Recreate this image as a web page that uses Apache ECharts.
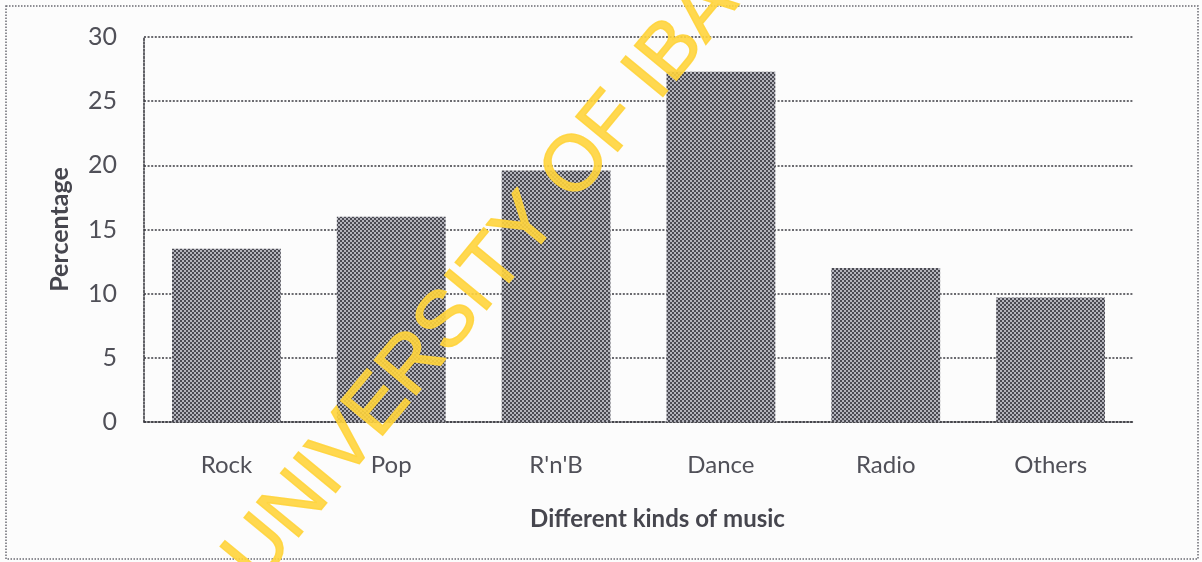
<!DOCTYPE html>
<html>
<head>
<meta charset="utf-8">
<script src="https://cdn.jsdelivr.net/npm/echarts@6/dist/echarts.min.js"></script>
<style>
  html, body { margin: 0; padding: 0; background: #fcfcfc; }
  #chart { width: 1202px; height: 562px; }
</style>
</head>
<body>
<div id="chart"></div>
<script>
// data
const categories = ['Rock', 'Pop', "R'n'B", 'Dance', 'Radio', 'Others']
const percentages = [13.5, 16, 19.6, 27.3, 12, 9.7]
const yTicks = { min: 0, max: 30, interval: 5 }

// checker pattern like the printed hatch fill
function checker () {
  const c = document.createElement('canvas')
  c.width = 4
  c.height = 4
  const ctx = c.getContext('2d')
  ctx.fillStyle = '#b4b4bc'
  ctx.fillRect(0, 0, 4, 4)
  ctx.fillStyle = '#4a4a52'
  ctx.fillRect(0, 0, 2, 2)
  ctx.fillRect(2, 2, 2, 2)
  return c
}

const dotted = { color: '#3a3a40', width: 1.6, type: [2, 1.6] }
const labelFont = 'Lato, "Open Sans", sans-serif'

const chart = echarts.init(document.getElementById('chart'))

const options = {
  backgroundColor: '#fcfcfc',
  animation: false,
  grid: { left: 144, right: 69, top: 37, bottom: 140 },
  xAxis: {
    type: 'category',
    data: categories,
    name: 'Different kinds of music',
    nameLocation: 'middle',
    nameGap: 85,
    nameTextStyle: { fontFamily: labelFont, fontSize: 24, fontWeight: 'bold', color: '#46464e', padding: [0, 0, 0, 38] },
    axisLine: { lineStyle: dotted },
    axisTick: { show: false },
    axisLabel: { fontFamily: labelFont, fontSize: 24, color: '#505058', margin: 31 }
  },
  yAxis: {
    type: 'value',
    min: yTicks.min,
    max: yTicks.max,
    interval: yTicks.interval,
    name: 'Percentage',
    nameLocation: 'middle',
    nameGap: 72,
    nameTextStyle: { fontFamily: labelFont, fontSize: 25, fontWeight: 'bold', color: '#46464e' },
    axisLine: { show: true, lineStyle: dotted },
    axisTick: { show: false },
    splitLine: { lineStyle: dotted },
    axisLabel: { fontFamily: labelFont, fontSize: 25, color: '#505058', margin: 27 }
  },
  series: [{
    type: 'bar',
    data: percentages,
    barWidth: '66%',
    itemStyle: { color: { image: checker(), repeat: 'repeat' } }
  }],
  graphic: [
    {
      type: 'rect',
      shape: { x: 6, y: 6, width: 1192, height: 553 },
      style: { fill: null, stroke: '#6a6a72', lineWidth: 1.5, lineDash: [1.5, 1.5] },
      silent: true
    },
    {
      type: 'text',
      x: 482,
      y: 281,
      rotation: 0.88,
      z: 100,
      style: {
        text: 'UNIVERSITY OF IBA',
        fontFamily: '"Liberation Sans", Arial, sans-serif',
        fontSize: 79,
        fill: 'rgba(255, 212, 60, 0.9)',
        stroke: 'rgba(255, 212, 60, 0.9)',
        lineWidth: 1.5,
        align: 'center',
        verticalAlign: 'middle'
      },
      silent: true
    }
  ]
}

chart.setOption(options)
</script>
</body>
</html>
